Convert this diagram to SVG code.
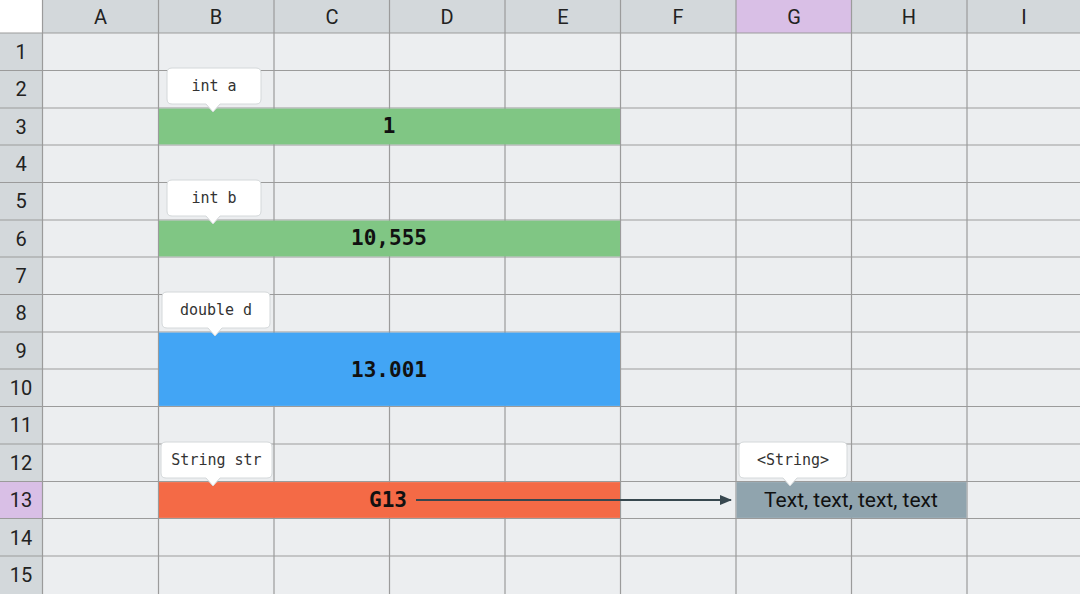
<svg xmlns="http://www.w3.org/2000/svg" width="1080" height="594" viewBox="0 0 1080 594">
  <defs>
    <style>
      .cell { fill: #eceef0; }
      .hdr { fill: #d3d8db; }
      .hdr-sel { fill: #d9bfe6; }
      .grid line { stroke: #9b9b9b; stroke-width: 1.2; }
      .hdr-txt { font-family: Roboto, "Liberation Sans", sans-serif; font-size: 20px; fill: #222; text-anchor: middle; }
      .val { font-family: "DejaVu Sans Mono", "Liberation Mono", monospace; font-weight: bold; font-size: 21px; fill: #111; text-anchor: middle; }
      .tip path { fill: #ffffff; stroke: #d4d8da; stroke-width: 1; }
      .tip-txt { font-family: "DejaVu Sans Mono", "Liberation Mono", monospace; font-size: 15px; fill: #333; text-anchor: middle; }
      .str-txt { font-family: Roboto, "Liberation Sans", sans-serif; font-size: 21px; fill: #111; text-anchor: middle; }
      .link { stroke: #37474f; stroke-width: 2; fill: none; }
    </style>
    <marker id="arrow" markerWidth="12" markerHeight="10" refX="11" refY="5" orient="auto" markerUnits="userSpaceOnUse">
      <path d="M0,0 L12,5 L0,10 Z" fill="#37474f"/>
    </marker>
  </defs>

  <!-- sheet background and headers -->
  <rect x="0" y="0" width="1080" height="594" class="cell"/>
  <rect x="0" y="0" width="1080" height="33" class="hdr"/>
  <rect x="0" y="0" width="42.5" height="594" class="hdr"/>
  <rect x="0" y="0" width="42.5" height="33" fill="#ffffff"/>
  <rect x="736" y="0" width="115.5" height="33" class="hdr-sel"/>
  <rect x="0" y="481.5" width="42.5" height="37" class="hdr-sel"/>

  <!-- grid lines -->
  <g class="grid">
    <line x1="42.5" y1="0" x2="42.5" y2="594"/>
    <line x1="158.5" y1="0" x2="158.5" y2="594"/>
    <line x1="274" y1="0" x2="274" y2="594"/>
    <line x1="389.5" y1="0" x2="389.5" y2="594"/>
    <line x1="505" y1="0" x2="505" y2="594"/>
    <line x1="620.5" y1="0" x2="620.5" y2="594"/>
    <line x1="736" y1="0" x2="736" y2="594"/>
    <line x1="851.5" y1="0" x2="851.5" y2="594"/>
    <line x1="967" y1="0" x2="967" y2="594"/>
    <line x1="0" y1="33" x2="1080" y2="33"/>
    <line x1="0" y1="70.5" x2="1080" y2="70.5"/>
    <line x1="0" y1="108" x2="1080" y2="108"/>
    <line x1="0" y1="145" x2="1080" y2="145"/>
    <line x1="0" y1="182.5" x2="1080" y2="182.5"/>
    <line x1="0" y1="220" x2="1080" y2="220"/>
    <line x1="0" y1="257" x2="1080" y2="257"/>
    <line x1="0" y1="294.5" x2="1080" y2="294.5"/>
    <line x1="0" y1="332" x2="1080" y2="332"/>
    <line x1="0" y1="369" x2="1080" y2="369"/>
    <line x1="0" y1="406.5" x2="1080" y2="406.5"/>
    <line x1="0" y1="444" x2="1080" y2="444"/>
    <line x1="0" y1="481.5" x2="1080" y2="481.5"/>
    <line x1="0" y1="518.5" x2="1080" y2="518.5"/>
    <line x1="0" y1="556" x2="1080" y2="556"/>
  </g>

  <!-- column headers -->
  <g id="col-headers">
    <text x="100.5" y="24" class="hdr-txt">A</text>
    <text x="216" y="24" class="hdr-txt">B</text>
    <text x="332" y="24" class="hdr-txt">C</text>
    <text x="447" y="24" class="hdr-txt">D</text>
    <text x="563" y="24" class="hdr-txt">E</text>
    <text x="678" y="24" class="hdr-txt">F</text>
    <text x="794" y="24" class="hdr-txt">G</text>
    <text x="909" y="24" class="hdr-txt">H</text>
    <text x="1024" y="24" class="hdr-txt">I</text>
  </g>
  <!-- row headers -->
  <g id="row-headers">
    <text x="21" y="59" class="hdr-txt">1</text>
    <text x="21" y="96" class="hdr-txt">2</text>
    <text x="21" y="134" class="hdr-txt">3</text>
    <text x="21" y="171" class="hdr-txt">4</text>
    <text x="21" y="208" class="hdr-txt">5</text>
    <text x="21" y="246" class="hdr-txt">6</text>
    <text x="21" y="283" class="hdr-txt">7</text>
    <text x="21" y="320" class="hdr-txt">8</text>
    <text x="21" y="358" class="hdr-txt">9</text>
    <text x="21" y="395" class="hdr-txt">10</text>
    <text x="21" y="432" class="hdr-txt">11</text>
    <text x="21" y="470" class="hdr-txt">12</text>
    <text x="21" y="507" class="hdr-txt">13</text>
    <text x="21" y="545" class="hdr-txt">14</text>
    <text x="21" y="582" class="hdr-txt">15</text>
  </g>

  <!-- merged value cells; each fill sits inside the grid border and hides the inner lines -->
  <g id="cell-a">
    <rect x="159" y="108.6" width="461" height="35.8" fill="#80c684"/>
    <text x="389" y="133" class="val">1</text>
  </g>
  <g id="cell-b">
    <rect x="159" y="220.6" width="461" height="35.8" fill="#80c684"/>
    <text x="389" y="245" class="val">10,555</text>
  </g>
  <g id="cell-d">
    <rect x="159" y="332.6" width="461" height="73.3" fill="#42a5f5"/>
    <text x="389" y="377" class="val">13.001</text>
  </g>
  <g id="cell-str">
    <rect x="159" y="482.1" width="461" height="35.8" fill="#f46a46"/>
    <text x="388" y="507" class="val">G13</text>
  </g>
  <g id="cell-g13">
    <rect x="736.6" y="482.1" width="229.8" height="35.8" fill="#90a4ae"/>
    <text x="851" y="507" class="str-txt">Text, text, text, text</text>
  </g>

  <!-- connector -->
  <g id="connectors">
    <line x1="416" y1="500" x2="731" y2="500" class="link" marker-end="url(#arrow)"/>
  </g>

  <!-- type callouts -->
  <g id="tip-int-a" class="tip">
    <path d="M172,68 H256 Q261,68 261,73 V99 Q261,104 256,104 H220 L213,112 L206,104 H172 Q167,104 167,99 V73 Q167,68 172,68 Z"/>
    <text x="214" y="91" class="tip-txt">int a</text>
  </g>
  <g id="tip-int-b" class="tip">
    <path d="M172,180 H256 Q261,180 261,185 V211 Q261,216 256,216 H220 L213,224 L206,216 H172 Q167,216 167,211 V185 Q167,180 172,180 Z"/>
    <text x="214" y="203" class="tip-txt">int b</text>
  </g>
  <g id="tip-double-d" class="tip">
    <path d="M167,292 H265 Q270,292 270,297 V323 Q270,328 265,328 H222 L215,336 L208,328 H167 Q162,328 162,323 V297 Q162,292 167,292 Z"/>
    <text x="216" y="315" class="tip-txt">double d</text>
  </g>
  <g id="tip-string-str" class="tip">
    <path d="M166,442 H267 Q272,442 272,447 V473 Q272,478 267,478 H220 L213,486 L206,478 H166 Q161,478 161,473 V447 Q161,442 166,442 Z"/>
    <text x="216.5" y="465" class="tip-txt">String str</text>
  </g>
  <g id="tip-string-type" class="tip">
    <path d="M744,442 H842 Q847,442 847,447 V473 Q847,478 842,478 H797 L790,486 L783,478 H744 Q739,478 739,473 V447 Q739,442 744,442 Z"/>
    <text x="793" y="465" class="tip-txt">&lt;String&gt;</text>
  </g>
</svg>
